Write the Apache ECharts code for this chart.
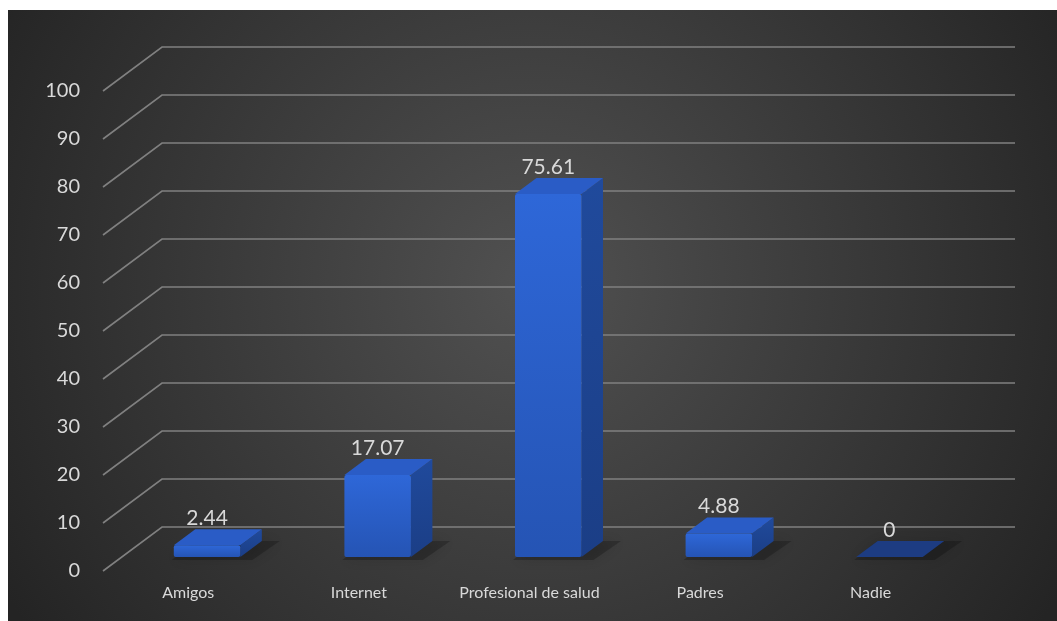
<!DOCTYPE html>
<html>
<head>
<meta charset="utf-8">
<script src="https://cdn.jsdelivr.net/npm/echarts@6/dist/echarts.min.js"></script>
<style>
html,body{margin:0;padding:0;background:#ffffff;}
#chart{width:1057px;height:621px;}
</style>
</head>
<body>
<div id="chart"></div>
<script>
// ---- data ----
var categories = ['Amigos', 'Internet', 'Profesional de salud', 'Padres', 'Nadie'];
var values = [2.44, 17.07, 75.61, 4.88, 0];
var yTicks = [0, 10, 20, 30, 40, 50, 60, 70, 80, 90, 100];

// ---- 3D projection settings (layout) ----
var DX = 59, DY = -44;      // full depth offset in pixels
var D1 = 0.318, D2 = 0.682; // bar depth range
var BAR_W = 0.39;           // bar width as a fraction of a category

var chart = echarts.init(document.getElementById('chart'));
var txt = '#d9d9d9';
var font = 'Lato, "Open Sans", sans-serif';

function gridItem(params, api) {
  var v = api.value(1);
  var cs = params.coordSys;
  var y = api.coord([0, v])[1];
  var x0 = cs.x, x1 = cs.x + cs.width;
  return {
    type: 'polyline',
    shape: { points: [[x0, y], [x0 + DX, y + DY], [x1 + DX, y + DY]] },
    style: { stroke: '#808080', lineWidth: 1.6, fill: null }
  };
}

function barItem(params, api) {
  var i = api.value(0), v = api.value(1);
  var top = api.coord([i, v]);
  var base = api.coord([i, 0]);
  var w = api.size([1, 0])[0] * BAR_W;
  var xl = top[0] - w / 2, xr = top[0] + w / 2;
  var fx = DX * D1, fy = DY * D1, bx = DX * D2, by = DY * D2;
  var yt = top[1], yb = base[1];
  var children = [];
  // soft floor shadow
  children.push({
    type: 'polygon',
    shape: { points: [
      [xl + fx - 2, yb + fy + 3], [xr + fx + 12, yb + fy + 3],
      [xr + bx + 18, yb + by], [xl + bx, yb + by]
    ] },
    style: { fill: 'rgba(0,0,0,0.22)', shadowBlur: 14, shadowColor: 'rgba(0,0,0,0.55)' },
    z2: 0
  });
  if (v <= 0) {
    children.push({
      type: 'polygon',
      shape: { points: [[xl + fx, yb + fy], [xr + fx, yb + fy], [xr + bx, yb + by], [xl + bx, yb + by]] },
      style: { fill: '#1d3c82' },
      z2: 2
    });
  } else {
    // side face
    children.push({
      type: 'polygon',
      shape: { points: [[xr + fx, yt + fy], [xr + bx, yt + by], [xr + bx, yb + by], [xr + fx, yb + fy]] },
      style: { fill: new echarts.graphic.LinearGradient(0, 0, 0, 1, [
        { offset: 0, color: '#204a9c' }, { offset: 1, color: '#1b3e86' }]) },
      z2: 2
    });
    // top face
    children.push({
      type: 'polygon',
      shape: { points: [[xl + fx, yt + fy], [xr + fx, yt + fy], [xr + bx, yt + by], [xl + bx, yt + by]] },
      style: { fill: '#2a5cc6' },
      z2: 2
    });
    // front face
    children.push({
      type: 'rect',
      shape: { x: xl + fx, y: yt + fy, width: w, height: yb - yt, r: 2 },
      style: { fill: new echarts.graphic.LinearGradient(0, 0, 0, 1, [
        { offset: 0, color: '#2e67d8' }, { offset: 1, color: '#2554b4' }]) },
      z2: 3
    });
  }
  // value label
  children.push({
    type: 'text',
    style: {
      text: String(v),
      x: top[0] + fx, y: yt + fy - 27,
      align: 'center', verticalAlign: 'middle',
      fill: txt, font: '21px ' + font
    },
    z2: 4
  });
  return { type: 'group', children: children };
}

var option = {
  backgroundColor: '#ffffff',
  animation: false,
  graphic: [{
    type: 'rect', z: -10, silent: true,
    shape: { x: 8, y: 10, width: 1049, height: 611 },
    style: { fill: {
      type: 'radial', x: 0.5, y: 0.45, r: 1.0,
      colorStops: [{ offset: 0, color: '#515151' }, { offset: 1, color: '#242424' }]
    } }
  }],
  grid: { left: 103, right: 101, top: 91, bottom: 50 },
  xAxis: {
    type: 'category', data: categories,
    axisLine: { show: false }, axisTick: { show: false },
    axisLabel: { color: txt, fontSize: 16, fontFamily: font, margin: 14, interval: 0 }
  },
  yAxis: {
    type: 'value', min: 0, max: 100, interval: 10,
    axisLine: { show: false }, axisTick: { show: false }, splitLine: { show: false },
    axisLabel: { color: txt, fontSize: 20, fontFamily: font, margin: 23 }
  },
  series: [{
    type: 'custom', renderItem: gridItem, silent: true, z: 1,
    data: yTicks.map(function (t) { return [0, t]; })
  }, {
    type: 'custom', renderItem: barItem, silent: true, z: 5,
    data: values.map(function (v, i) { return [i, v]; })
  }]
};
chart.setOption(option);
</script>
</body>
</html>
